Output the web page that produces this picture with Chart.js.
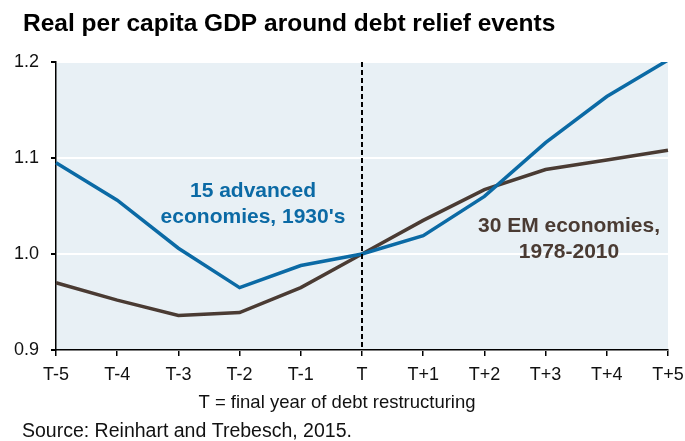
<!DOCTYPE html>
<html>
<head>
<meta charset="utf-8">
<script src="https://cdn.jsdelivr.net/npm/chart.js@4.4.1/dist/chart.umd.min.js"></script>
<style>
  html, body { margin: 0; padding: 0; background: #fff; }
  #wrap { position: relative; width: 685px; height: 441px; }
</style>
</head>
<body>
<div id="wrap"><canvas id="grafico" width="685" height="441"></canvas></div>
<script>
const periodos = ['T-5', 'T-4', 'T-3', 'T-2', 'T-1', 'T', 'T+1', 'T+2', 'T+3', 'T+4', 'T+5'];
const avancadas1930 = [1.095, 1.056, 1.006, 0.965, 0.988, 1.0, 1.019, 1.060, 1.116, 1.164, 1.202];
const emergentes = [0.970, 0.952, 0.936, 0.939, 0.965, 1.0, 1.035, 1.067, 1.088, 1.098, 1.108];
const yTicks = [0.9, 1.0, 1.1, 1.2];

const AZUL = '#0b6aa5';
const MARROM = '#4a3b33';
const FUNDO = '#e8f0f5';
const FONTE = '"Liberation Sans", Arial, sans-serif';

// fundo da área de plotagem
const fundoPlugin = {
  id: 'fundo',
  beforeDraw(chart) {
    const { ctx, chartArea: a } = chart;
    ctx.save();
    ctx.fillStyle = FUNDO;
    ctx.fillRect(a.left, a.top, a.right - a.left, a.bottom - a.top);
    ctx.restore();
  }
};

// linha tracejada em T e textos soltos
const textosPlugin = {
  id: 'textos',
  afterDatasetsDraw(chart) {
    const { ctx, chartArea: a, scales } = chart;
    const xT = scales.x.getPixelForValue(periodos.indexOf('T'));
    ctx.save();
    ctx.strokeStyle = '#000';
    ctx.lineWidth = 2;
    ctx.setLineDash([5, 3]);
    ctx.beginPath();
    ctx.moveTo(xT, a.top);
    ctx.lineTo(xT, a.bottom);
    ctx.stroke();
    ctx.setLineDash([]);

    ctx.textAlign = 'center';
    ctx.textBaseline = 'alphabetic';
    ctx.font = 'bold 21px ' + FONTE;
    ctx.fillStyle = AZUL;
    ctx.fillText('15 advanced', 253, 197);
    ctx.fillText("economies, 1930's", 253, 223);
    ctx.fillStyle = MARROM;
    ctx.fillText('30 EM economies,', 569, 232);
    ctx.fillText('1978-2010', 569, 258);
    ctx.restore();
  },
  afterDraw(chart) {
    const { ctx } = chart;
    ctx.save();
    ctx.fillStyle = '#000';
    ctx.textAlign = 'left';
    ctx.font = 'bold 24.5px ' + FONTE;
    ctx.fillText('Real per capita GDP around debt relief events', 23, 31);
    ctx.font = '18.5px ' + FONTE;
    ctx.fillStyle = '#111';
    ctx.textAlign = 'center';
    ctx.fillText('T = final year of debt restructuring', 337, 408);
    ctx.textAlign = 'left';
    ctx.font = '19.5px ' + FONTE;
    ctx.fillText('Source: Reinhart and Trebesch, 2015.', 22, 437);
    ctx.restore();
  }
};

new Chart(document.getElementById('grafico'), {
  type: 'line',
  data: {
    labels: periodos,
    datasets: [
      { label: '15 advanced economies, 1930\'s', data: avancadas1930, borderColor: AZUL, borderWidth: 3.5, pointRadius: 0, tension: 0 },
      { label: '30 EM economies, 1978-2010', data: emergentes, borderColor: MARROM, borderWidth: 3.5, pointRadius: 0, tension: 0 }
    ]
  },
  options: {
    responsive: false,
    animation: false,
    layout: { padding: { top: 62, right: 17, left: 0, bottom: 0 } },
    plugins: { legend: { display: false }, tooltip: { enabled: false } },
    scales: {
      x: {
        offset: false,
        grid: { drawOnChartArea: false, color: '#000', tickColor: '#000', tickLength: 6, lineWidth: 1.5 },
        border: { color: '#000', width: 1.5 },
        ticks: { color: '#111', font: { family: FONTE, size: 18 }, padding: 8, maxRotation: 0, autoSkip: false },
        afterFit(axis) {
          axis.height = 91;
          // o rótulo T+5 pode passar da borda direita
          axis.paddingLeft = 0;
          axis.paddingRight = 0;
        }
      },
      y: {
        min: 0.9,
        max: 1.2,
        afterBuildTicks(axis) { axis.ticks = yTicks.map(v => ({ value: v })); },
        grid: { color: '#fff', tickColor: '#000', tickLength: 5, lineWidth: 2 },
        border: { color: '#000', width: 1.5 },
        ticks: { color: '#111', font: { family: FONTE, size: 18 }, padding: 12, callback: v => v.toFixed(1) },
        afterFit(axis) {
          axis.width = 56;
          axis.paddingTop = 0;
          axis.paddingBottom = 0;
        }
      }
    }
  },
  plugins: [fundoPlugin, textosPlugin]
});
</script>
</body>
</html>
